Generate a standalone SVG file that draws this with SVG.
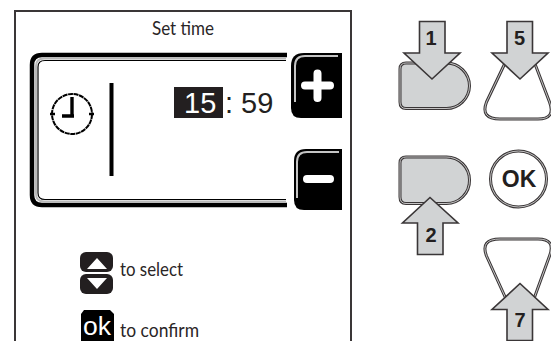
<svg xmlns="http://www.w3.org/2000/svg" width="551" height="341" viewBox="0 0 551 341">
<style>
.t{font-family:"Lato","Liberation Sans",sans-serif;fill:#2a2526}
.a{font-family:"Liberation Sans",Arial,sans-serif;fill:#231f20}
.b{font-family:"Liberation Sans",Arial,sans-serif;font-weight:bold;fill:#231f20;text-anchor:middle}
.arrow{fill:#d1d3d4;stroke:#3a3637;stroke-width:1.6;stroke-linejoin:miter}
.k{fill:none;stroke:#000}
.g{fill:none;stroke:#b9b9b9}
.o1{stroke:#3a3637;stroke-width:3;stroke-linejoin:round}
.o2{fill:none;stroke:#e8e8e8;stroke-width:.8;stroke-linejoin:round}
</style>
<rect width="551" height="341" fill="#fff"/>
<path id="frame" d="M15 341V11H351V341" fill="none" stroke="#3a3637" stroke-width="2"/>
<text class="t" x="152" y="35" font-size="19.500" textLength="62" lengthAdjust="spacingAndGlyphs">Set time</text>
<g id="panel">
<path class="k" stroke-width="4.500" d="M287 55H42Q32 55 32 65V195Q32 205 42 205H287"/>
<path class="g" stroke-width="2" d="M286 58.500H44Q36 58.500 36 66V194Q36 201.500 44 201.500H286"/>
<path class="k" stroke-width="1.200" d="M286 60.500H45Q38 60.500 38 67V193Q38 199.500 45 199.500H286"/>
<rect x="109.500" y="83" width="4" height="93" fill="#000"/>
<g id="clock">
<circle cx="72" cy="114" r="20" fill="none" stroke="#000" stroke-width="2" stroke-dasharray="5 .6"/>
<path d="M72 97V117M62 116H74" fill="none" stroke="#000" stroke-width="3.400"/>
<path d="M50 114H55M89 114H94" stroke="#000" stroke-width="2.500"/>
</g>
<rect x="174" y="87" width="49" height="31" fill="#231f20"/>
<text class="a" x="184" y="113" font-size="29" style="fill:#fff">15</text>
<text class="a" x="225" y="113" font-size="29">: 59</text>
</g>
<g id="plus">
<path d="M342 53H304Q291 53 291 66V108Q291 118 301 118H342Z" fill="#000"/>
<path d="M338 56H305Q295 56 295 66V102" fill="none" stroke="#c4c4c4" stroke-width="2"/>
<path d="M317.500 73.500V98M305 85.500H330" stroke="#fff" stroke-width="8" stroke-linecap="round"/>
</g>
<g id="minus">
<path d="M342 149H306Q294 149 294 161V200Q294 210 304 210H342Z" fill="#000"/>
<path d="M339 152H307Q297 152 297 162V198" fill="none" stroke="#c4c4c4" stroke-width="2"/>
<path d="M307 179H330" stroke="#fff" stroke-width="8" stroke-linecap="round"/>
</g>
<g id="select-icon">
<rect x="80" y="252" width="33" height="20" rx="6" fill="#231f20"/>
<rect x="80" y="274" width="33" height="20" rx="6" fill="#231f20"/>
<path d="M97 258L107 269H87ZM97 289L107 278H87Z" fill="#fff"/>
</g>
<text class="t" x="120" y="276" font-size="19" textLength="63" lengthAdjust="spacingAndGlyphs">to select</text>
<g id="ok-icon">
<path d="M84 310H110L114 314V341H81V314Z" fill="#000"/>
<text x="97" y="335" font-family="Liberation Sans,sans-serif" font-size="25" fill="#fff" text-anchor="middle" textLength="28" lengthAdjust="spacingAndGlyphs">ok</text>
</g>
<text class="t" x="120" y="337" font-size="19" textLength="79" lengthAdjust="spacingAndGlyphs">to confirm</text>
<g id="button-1">
<path class="o1" fill="#d1d3d4" d="M406 63H446A23 23 0 0 1 469.500 86A23 23 0 0 1 446 108.500H406Q400 108.500 400 102V69Q400 63 406 63Z"/>
<path class="o2" d="M406 63H446A23 23 0 0 1 469.500 86A23 23 0 0 1 446 108.500H406Q400 108.500 400 102V69Q400 63 406 63Z"/>
</g>
<g id="button-5">
<path class="o1" fill="#fff" d="M506.500 60L486.500 102Q480 119 500 119H538Q556 119 549.500 102L533.500 60Z"/>
<path class="o2" d="M506.500 60L486.500 102Q480 119 500 119H538Q556 119 549.500 102L533.500 60Z"/>
</g>
<g id="button-2">
<path class="o1" fill="#d1d3d4" d="M406 157H446A23 23 0 0 1 469.500 180A23 23 0 0 1 446 203.500H406Q400 203.500 400 197V163Q400 157 406 157Z"/>
<path class="o2" d="M406 157H446A23 23 0 0 1 469.500 180A23 23 0 0 1 446 203.500H406Q400 203.500 400 197V163Q400 157 406 157Z"/>
</g>
<g id="button-ok">
<circle cx="518.500" cy="179" r="28" fill="#fff" stroke="#3a3637" stroke-width="3"/>
<circle cx="518.500" cy="179" r="28" fill="none" stroke="#e8e8e8" stroke-width=".8"/>
<text class="b" x="519" y="187" font-size="23">OK</text>
</g>
<g id="button-7">
<path class="o1" fill="#fff" d="M506.500 300L486.500 256Q480 239 500 239H538Q556 239 549.500 256L533.500 300Z"/>
<path class="o2" d="M506.500 300L486.500 256Q480 239 500 239H538Q556 239 549.500 256L533.500 300Z"/>
</g>
<g id="connectors">
<path class="arrow" d="M419.500 21.500H445V53H460L432 79L404 53H419.500Z"/>
<path class="arrow" d="M507 21.500H532.500V53H548L520 79L492 53H507Z"/>
<path class="arrow" d="M417.500 254.500H443V223H458L430 197.500L402.500 223H417.500Z"/>
<path class="arrow" d="M507 340.500H532.500V309.500H548L520 283.500L492 309.500H507Z"/>
</g>
<text class="b" x="431" y="45" font-size="20">1</text>
<text class="b" x="519.500" y="45" font-size="20">5</text>
<text class="b" x="431" y="242" font-size="20">2</text>
<text class="b" x="520" y="327" font-size="20">7</text>
</svg>
